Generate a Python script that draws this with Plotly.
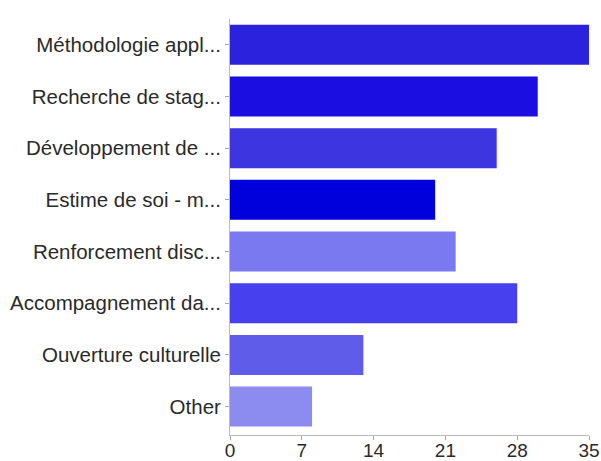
import plotly.graph_objects as go

categories = [
    "Méthodologie appl...",
    "Recherche de stag...",
    "Développement de ...",
    "Estime de soi - m...",
    "Renforcement disc...",
    "Accompagnement da...",
    "Ouverture culturelle",
    "Other",
]
values = [35, 30, 26, 20, 22, 28, 13, 8]
colors = ["#2a22dd", "#1a0ee0", "#3d35e0", "#0000dd", "#7b79ef", "#4640ee", "#5e5ce8", "#8c8cf0"]
x_ticks = [0, 7, 14, 21, 28, 35]

fig = go.Figure(go.Bar(
    x=values, y=categories, orientation="h",
    marker=dict(color=colors, line=dict(width=0)),
))
fig.update_layout(
    width=601, height=461,
    margin=dict(l=230, r=12, t=19, b=26),
    paper_bgcolor="white", plot_bgcolor="white",
    bargap=0.226,
    font=dict(family="Liberation Sans, Arial, sans-serif", size=20, color="#2a2a2a"),
    showlegend=False,
)
fig.update_yaxes(
    range=[7.55, -0.5], showline=True, linecolor="#bbb", linewidth=1,
    ticks="outside", ticklen=4, tickcolor="#aaa", showgrid=False,
    tickfont=dict(size=20.5, color="#2a2a2a"), automargin=False,
)
fig.update_xaxes(
    range=[0, 35], tickvals=x_ticks, showline=True, linecolor="#bbb", linewidth=1,
    ticks="outside", ticklen=4, tickcolor="#aaa", showgrid=False, zeroline=False,
    tickfont=dict(size=19, color="#2a2a2a"), automargin=False,
    ticklabelstandoff=-6,
)
fig.write_html(
    "out.html",
    config={"displayModeBar": False},
    post_script="document.body.style.margin='0';document.body.style.overflow='hidden';",
)
